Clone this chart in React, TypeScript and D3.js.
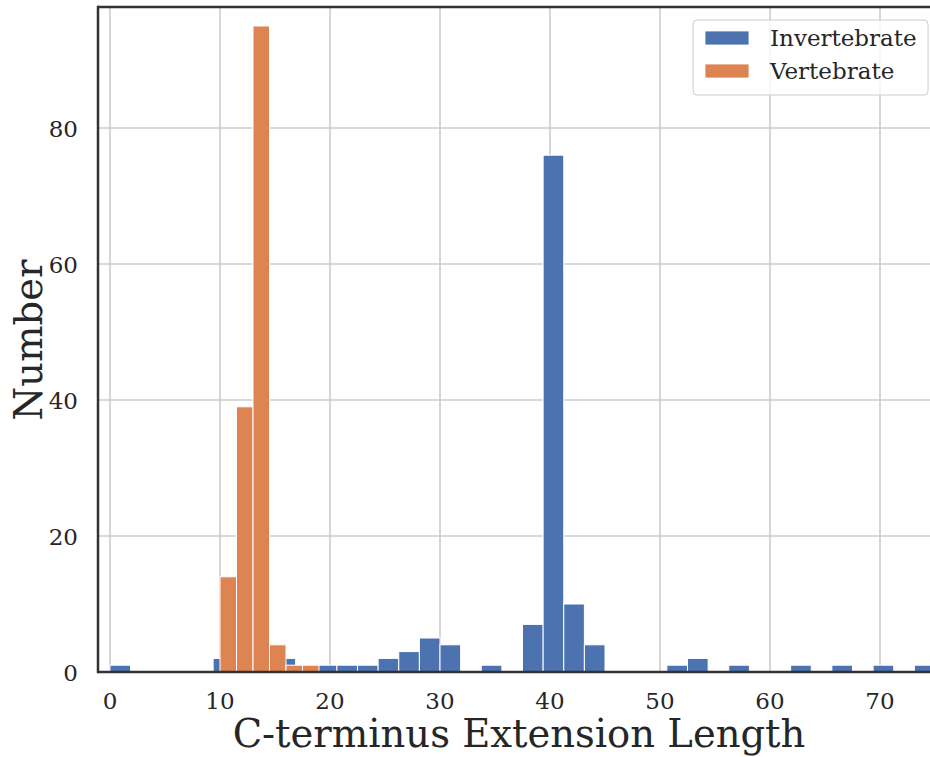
import React from "react";
import * as d3 from "d3";

// Histogram counts per bin
const invertebrateCounts = [
  1, 0, 0, 0, 0, 2, 0, 0, 2, 0,
  1, 1, 1, 2, 3, 5, 4, 0, 1, 0,
  7, 76, 10, 4, 0, 0, 0, 1, 2, 0,
  1, 0, 0, 1, 0, 1, 0, 1, 0, 1,
];
const invertebrateBinStart = 0;
const invertebrateBinWidth = 1.875;

const vertebrateCounts = [14, 39, 95, 4, 1, 1];
const vertebrateBinStart = 10;
const vertebrateBinWidth = 1.5;

const xTicks = [0, 10, 20, 30, 40, 50, 60, 70];
const yTicks = [0, 20, 40, 60, 80];
const seriesNames = ["Invertebrate", "Vertebrate"];
const seriesColors = ["#4C72B0", "#DD8452"];

const W = 930;
const H = 757;
const FONT = "'DejaVu Serif', serif";

const left = 98;
const right = 940;
const top = 7;
const bottom = 672;

function toBins(counts: number[], start: number, width: number) {
  return counts.map((c, i) => ({ x0: start + i * width, x1: start + (i + 1) * width, count: c }));
}

export default function App() {
  const x = d3.scaleLinear().domain([-12 / 11, 830 / 11]).range([left, right]);
  const y = d3.scaleLinear().domain([0, 665 / 6.8]).range([bottom, top]);

  const series = [
    toBins(invertebrateCounts, invertebrateBinStart, invertebrateBinWidth),
    toBins(vertebrateCounts, vertebrateBinStart, vertebrateBinWidth),
  ];

  return (
    <svg
      width={W}
      height={H}
      style={{ position: "absolute", left: 0, top: 0, background: "#fff" }}
      fontFamily={FONT}
    >
      <defs>
        <clipPath id="plot">
          <rect x={left} y={top} width={right - left} height={bottom - top} />
        </clipPath>
      </defs>
      <rect width={W} height={H} fill="#fff" />
      {/* grid */}
      <g stroke="#cccccc" strokeWidth={1.6}>
        {xTicks.map((t) => (
          <line key={"gx" + t} x1={x(t)} x2={x(t)} y1={top} y2={bottom} />
        ))}
        {yTicks.map((t) => (
          <line key={"gy" + t} x1={left} x2={right} y1={y(t)} y2={y(t)} />
        ))}
      </g>
      {/* bars */}
      <g clipPath="url(#plot)">
        {series.map((bins, si) => (
          <g key={si} fill={seriesColors[si]} stroke="#ffffff" strokeWidth={1}>
            {bins
              .filter((b) => b.count > 0)
              .map((b, i) => (
                <rect
                  key={i}
                  x={x(b.x0)}
                  width={x(b.x1) - x(b.x0)}
                  y={y(b.count)}
                  height={y(0) - y(b.count)}
                />
              ))}
          </g>
        ))}
      </g>
      {/* spines */}
      <g stroke="#333333" strokeWidth={2.5} fill="none">
        <line x1={left} x2={left} y1={top - 1.25} y2={bottom + 1.25} />
        <line x1={left} x2={right} y1={top} y2={top} />
        <line x1={left} x2={right} y1={bottom} y2={bottom} />
      </g>
      {/* tick labels */}
      <g fontSize={23} fill="#262626">
        {xTicks.map((t) => (
          <text key={"tx" + t} x={x(t)} y={709} textAnchor="middle">
            {t}
          </text>
        ))}
        {yTicks.map((t) => (
          <text key={"ty" + t} x={78} y={y(t) + 8.5} textAnchor="end">
            {t}
          </text>
        ))}
      </g>
      {/* axis labels */}
      <text x={(left + right) / 2} y={747} textAnchor="middle" fontSize={38.5} fill="#262626">
        C-terminus Extension Length
      </text>
      <text
        transform={`translate(${42},${340}) rotate(-90)`}
        textAnchor="middle"
        fontSize={38.5}
        fill="#262626"
      >
        Number
      </text>
      {/* legend */}
      <g>
        <rect x={693} y={20} width={235} height={75} rx={4} fill="#ffffff" fillOpacity={0.8} stroke="#cccccc" strokeWidth={1} />
        {seriesNames.map((name, i) => (
          <g key={name}>
            <rect x={705} y={31 + i * 33} width={44} height={14} fill={seriesColors[i]} stroke="#ffffff" strokeWidth={0.8} />
            <text x={770} y={46 + i * 33} fontSize={23} fill="#262626">
              {name}
            </text>
          </g>
        ))}
      </g>
    </svg>
  );
}
